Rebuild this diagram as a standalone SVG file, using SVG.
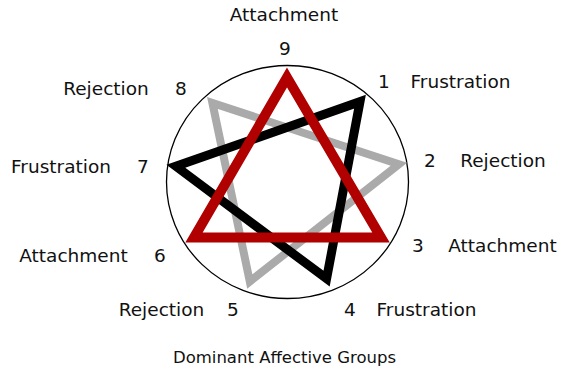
<svg xmlns="http://www.w3.org/2000/svg" width="563" height="375" viewBox="0 0 563 375">
<style>
text{font-family:"DejaVu Sans","Liberation Sans",sans-serif;font-size:18.5px;fill:#111;text-anchor:middle}
.title{font-size:16.5px}
.tri{fill:none;stroke-linejoin:miter;stroke-miterlimit:10}
</style>
<rect width="563" height="375" fill="#fff"/>
<ellipse id="ring" cx="287.5" cy="182" rx="121" ry="116.5" fill="none" stroke="#000" stroke-width="1.3"/>
<g id="connectors">
<polygon class="tri" points="398.8,164.3 249.8,281.5 212.4,102.9" stroke="#aaaaaa" stroke-width="8"/>
<polygon class="tri" points="360,101.7 326.6,278.7 175.9,166.3" stroke="#000" stroke-width="9"/>
<polygon class="tri" points="287,77.5 381,237.5 194,237.5" stroke="#b00000" stroke-width="10"/>
</g>
<g id="p9"><text x="284" y="21">Attachment</text><text x="285" y="55">9</text></g>
<g id="p1"><text x="384" y="88">1</text><text x="460.5" y="88">Frustration</text></g>
<g id="p2"><text x="430" y="167">2</text><text x="503" y="167">Rejection</text></g>
<g id="p3"><text x="418" y="252">3</text><text x="502.5" y="252">Attachment</text></g>
<g id="p4"><text x="350" y="316">4</text><text x="426.5" y="316">Frustration</text></g>
<g id="p5"><text x="161.5" y="316">Rejection</text><text x="233" y="316">5</text></g>
<g id="p6"><text x="73.5" y="262">Attachment</text><text x="160" y="262">6</text></g>
<g id="p7"><text x="61" y="173">Frustration</text><text x="143" y="173">7</text></g>
<g id="p8"><text x="106" y="95">Rejection</text><text x="181" y="95">8</text></g>
<text class="title" x="284.5" y="363">Dominant Affective Groups</text>
</svg>
